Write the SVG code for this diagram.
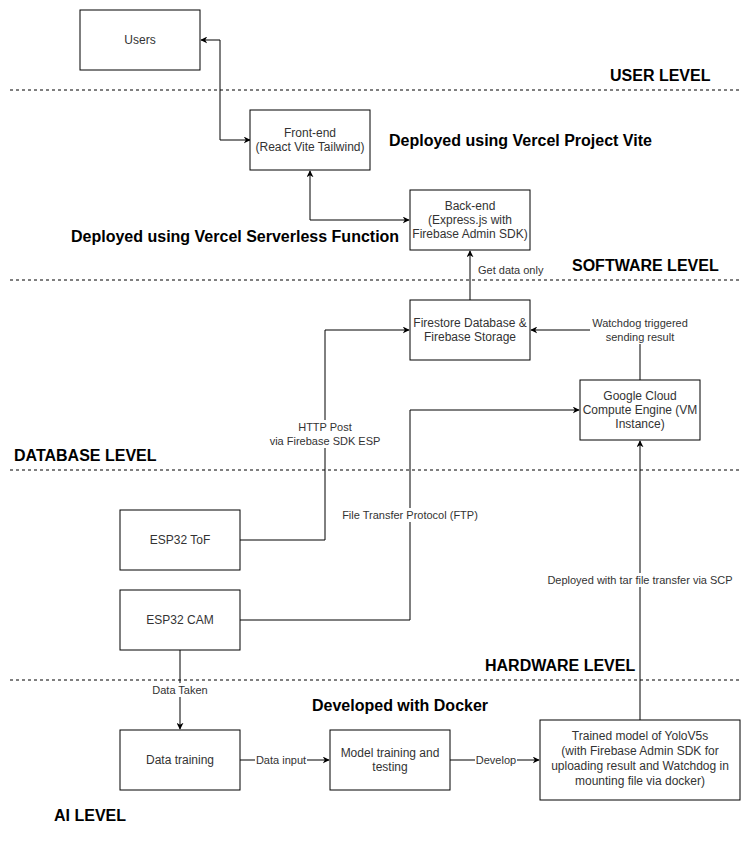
<svg xmlns="http://www.w3.org/2000/svg" width="751" height="841" viewBox="0 0 751 841">
<defs>
<marker id="arr" viewBox="0 0 10 10" refX="9" refY="5" markerWidth="7" markerHeight="7" markerUnits="userSpaceOnUse" orient="auto-start-reverse">
<path d="M0,0 L10,5 L0,10 L3,5 Z" fill="#000"/>
</marker>
<style>
.box{fill:#fff;stroke:#000;stroke-width:1}
.t{font-family:"Liberation Sans",Arial,sans-serif;font-size:12px;fill:#333;text-anchor:middle}
.el{font-family:"Liberation Sans",Arial,sans-serif;font-size:11px;fill:#333;text-anchor:middle}
.h{font-family:"Liberation Sans",Arial,sans-serif;font-size:16px;font-weight:bold;fill:#000}
.dash{stroke:#000;stroke-width:1;stroke-dasharray:3 3;fill:none}
.c{stroke:#000;stroke-width:1;fill:none}
.lb{fill:#fff}
</style>
</defs>
<rect width="751" height="841" fill="#fff"/>
<g id="levels">
<line class="dash" x1="10" y1="90" x2="740" y2="90"/>
<line class="dash" x1="10" y1="280" x2="740" y2="280"/>
<line class="dash" x1="10" y1="470" x2="740" y2="470"/>
<line class="dash" x1="10" y1="680" x2="740" y2="680"/>
<text class="h" x="610" y="81">USER LEVEL</text>
<text class="h" x="572" y="271">SOFTWARE LEVEL</text>
<text class="h" x="14" y="461">DATABASE LEVEL</text>
<text class="h" x="485" y="671">HARDWARE LEVEL</text>
<text class="h" x="54" y="821">AI LEVEL</text>
<text class="h" x="389" y="146">Deployed using Vercel Project Vite</text>
<text class="h" x="71" y="242">Deployed using Vercel Serverless Function</text>
<text class="h" x="312" y="711">Developed with Docker</text>
</g>
<g id="connectors">
<path class="c" d="M250,140 H220 V40 H201" marker-start="url(#arr)" marker-end="url(#arr)"/>
<path class="c" d="M310,171 V220 H409" marker-start="url(#arr)" marker-end="url(#arr)"/>
<path class="c" d="M470,300 V251" marker-end="url(#arr)"/>
<text class="el" x="478" y="274" style="text-anchor:start">Get data only</text>
<path class="c" d="M640,380 V330 H531" marker-end="url(#arr)"/>
<rect class="lb" x="590" y="316" width="100" height="28"/>
<text class="el" x="640" y="327">Watchdog triggered</text>
<text class="el" x="640" y="341">sending result</text>
<path class="c" d="M240,540 H325 V330 H409" marker-end="url(#arr)"/>
<rect class="lb" x="268" y="420" width="114" height="28"/>
<text class="el" x="325" y="431">HTTP Post</text>
<text class="el" x="325" y="445">via Firebase SDK ESP</text>
<path class="c" d="M240,620 H410 V410 H579" marker-end="url(#arr)"/>
<rect class="lb" x="346" y="508" width="128" height="14"/>
<text class="el" x="410" y="519">File Transfer Protocol (FTP)</text>
<path class="c" d="M640,720 V441" marker-end="url(#arr)"/>
<rect class="lb" x="546" y="573" width="188" height="14"/>
<text class="el" x="640" y="584">Deployed with tar file transfer via SCP</text>
<path class="c" d="M180,650 V729" marker-end="url(#arr)"/>
<rect class="lb" x="152" y="683" width="56" height="14"/>
<text class="el" x="180" y="694">Data Taken</text>
<path class="c" d="M240,760 H329" marker-end="url(#arr)"/>
<rect class="lb" x="255" y="753" width="52" height="14"/>
<text class="el" x="281" y="764">Data input</text>
<path class="c" d="M450,760 H539" marker-end="url(#arr)"/>
<rect class="lb" x="475" y="753" width="42" height="14"/>
<text class="el" x="496" y="764">Develop</text>
</g>
<g id="users"><rect class="box" x="80" y="10" width="120" height="60"/><text class="t" x="140" y="44">Users</text></g>
<g id="frontend"><rect class="box" x="250" y="110" width="120" height="60"/><text class="t" x="310" y="137">Front-end</text><text class="t" x="310" y="151">(React Vite Tailwind)</text></g>
<g id="backend"><rect class="box" x="410" y="190" width="120" height="60"/><text class="t" x="470" y="210">Back-end</text><text class="t" x="470" y="224">(Express.js with</text><text class="t" x="470" y="238">Firebase Admin SDK)</text></g>
<g id="firestore"><rect class="box" x="410" y="300" width="120" height="60"/><text class="t" x="470" y="327">Firestore Database &amp;</text><text class="t" x="470" y="341">Firebase Storage</text></g>
<g id="gcloud"><rect class="box" x="580" y="380" width="120" height="60"/><text class="t" x="640" y="400">Google Cloud</text><text class="t" x="640" y="414">Compute Engine (VM</text><text class="t" x="640" y="428">Instance)</text></g>
<g id="esp32tof"><rect class="box" x="120" y="510" width="120" height="60"/><text class="t" x="180" y="544">ESP32 ToF</text></g>
<g id="esp32cam"><rect class="box" x="120" y="590" width="120" height="60"/><text class="t" x="180" y="624">ESP32 CAM</text></g>
<g id="datatraining"><rect class="box" x="120" y="730" width="120" height="60"/><text class="t" x="180" y="764">Data training</text></g>
<g id="modeltraining"><rect class="box" x="330" y="730" width="120" height="60"/><text class="t" x="390" y="757">Model training and</text><text class="t" x="390" y="771">testing</text></g>
<g id="trainedmodel"><rect class="box" x="540" y="720" width="200" height="80"/><text class="t" x="640" y="740">Trained model of YoloV5s</text><text class="t" x="640" y="755">(with Firebase Admin SDK for</text><text class="t" x="640" y="770">uploading result and Watchdog in</text><text class="t" x="640" y="785">mounting file via docker)</text></g>
</svg>
